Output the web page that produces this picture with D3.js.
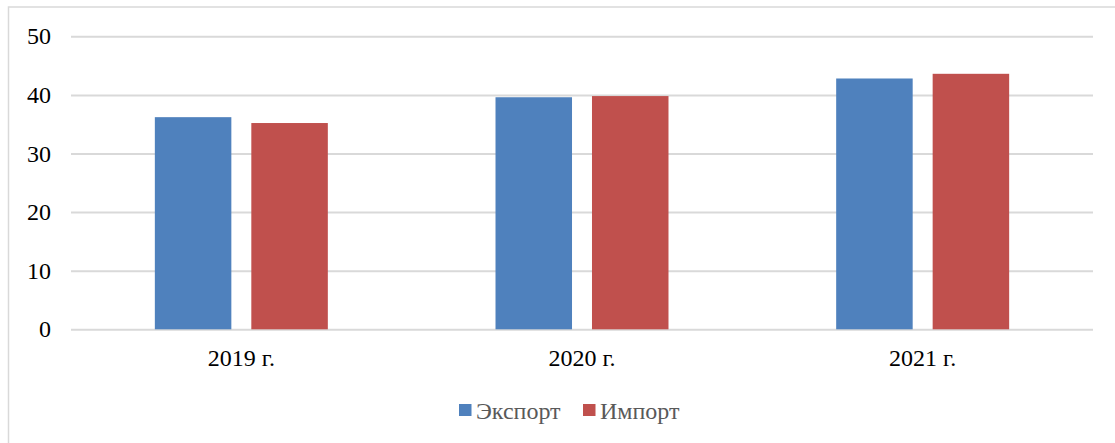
<!DOCTYPE html>
<html><head><meta charset="utf-8">
<script src="https://cdn.jsdelivr.net/npm/d3@7"></script>
<style>body{margin:0;background:#fff;} svg{display:block;}</style>
</head><body>
<svg id="c" width="1115" height="443"></svg>
<script>
const categories = ["2019 г.", "2020 г.", "2021 г."];
const seriesNames = ["Экспорт", "Импорт"];
const exportValues = [36.2, 39.6, 42.8];
const importValues = [35.2, 39.8, 43.6];
const yTicks = [0, 10, 20, 30, 40, 50];
const colors = ["#4f81bd", "#c0504d"];

const svg = d3.select("#c");
const FONT = '"Liberation Serif"';
const fs = "24px";
const m = {left: 71, right: 1093, top: 36.3, bottom: 329.3};

svg.append("rect").attr("x", 8.5).attr("y", 7).attr("width", 1200).attr("height", 500)
  .attr("fill", "#fff").attr("stroke", "#d9d9d9").attr("stroke-width", 1.5);

const x = d3.scaleBand().domain(categories).range([m.left, m.right]).paddingInner(0).paddingOuter(0);
const xs = d3.scaleBand().domain(seriesNames).range([0, x.bandwidth()]).paddingInner(0.207).paddingOuter(0.869);
const y = d3.scaleLinear().domain([0, 50]).range([m.bottom, m.top]);

const yAxis = d3.axisLeft(y).tickValues(yTicks).tickSize(-(m.right - m.left)).tickPadding(20);
const gy = svg.append("g").attr("transform", `translate(${m.left},0)`).call(yAxis);
gy.select(".domain").remove();
gy.selectAll(".tick line").attr("stroke", "#d9d9d9").attr("stroke-width", 2);
gy.selectAll(".tick text").style("font-family", FONT).style("font-size", fs).attr("fill", "#000");

const data = categories.map((c, i) => ({c, vals: [exportValues[i], importValues[i]]}));
const groups = svg.append("g").selectAll("g").data(data).join("g")
  .attr("transform", d => `translate(${x(d.c)},0)`);
groups.selectAll("rect").data(d => d.vals.map((v, j) => ({s: seriesNames[j], v, j}))).join("rect")
  .attr("x", d => xs(d.s)).attr("width", xs.bandwidth())
  .attr("y", d => y(d.v)).attr("height", d => y(0) - y(d.v))
  .attr("fill", d => colors[d.j]);

const xAxis = d3.axisBottom(x).tickSize(0).tickPadding(20);
const gx = svg.append("g").attr("transform", `translate(0,${m.bottom})`).call(xAxis);
gx.select(".domain").remove();
gx.selectAll(".tick text").style("font-family", FONT).style("font-size", fs).attr("fill", "#000");

const legend = [{name: seriesNames[0], x: 459, c: colors[0]}, {name: seriesNames[1], x: 583, c: colors[1]}];
const lg = svg.append("g");
legend.forEach(l => {
  lg.append("rect").attr("x", l.x).attr("y", 404).attr("width", 12.5).attr("height", 12).attr("fill", l.c);
  lg.append("text").attr("x", l.x + 17).attr("y", 419).style("font-family", FONT).style("font-size", fs)
    .attr("fill", "#595959").text(l.name);
});
</script>
</body></html>
